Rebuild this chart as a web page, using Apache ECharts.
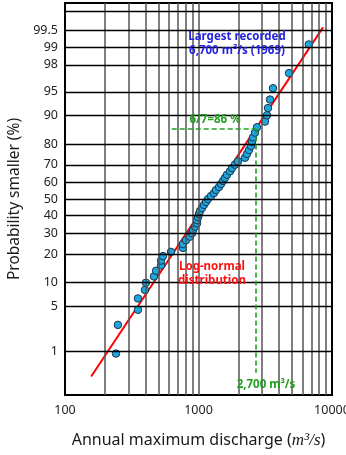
<!DOCTYPE html>
<html>
<head>
<meta charset="utf-8">
<script src="https://cdn.jsdelivr.net/npm/echarts@6/dist/echarts.min.js"></script>
<style>html,body{margin:0;padding:0;background:#fff;}#c{width:346px;height:455px;}</style>
</head>
<body>
<div id="c"></div>
<script>
// Observed annual maxima (m3/s) and their plotting probabilities (%)
const discharge = [241,249,352,352,397,404,464,481,524,524,542,622,765,765,806,864,894,910,942,
  975,975,991,1009,1026,1062,1099,1138,1178,1241,1306,1352,1425,1475,1527,1580,1635,1722,1783,
  1876,1976,2229,2307,2388,2472,2515,2559,2649,2742,3148,3258,3315,3433,3614,4764,6700];
const probability = [0.9,2.7,4.5,6.4,8.2,10.0,11.8,13.6,15.5,17.3,19.1,20.9,22.7,24.5,26.4,28.2,30.0,31.8,33.6,
  35.5,37.3,39.1,40.9,42.7,44.5,46.4,48.2,50.0,51.8,53.6,55.5,57.3,59.1,60.9,62.7,64.5,66.4,68.2,
  70.0,71.8,73.6,75.5,77.3,79.1,80.9,82.7,84.5,86.4,88.2,90.0,91.8,93.6,95.5,97.3,99.1];
// Fitted log-normal line end points
const fitQ = [157, 8570];
const fitP = [0.33, 99.57];
// Probability tick labels and extra grid lines
const probTicks = [1,5,10,20,30,40,50,60,70,80,90,95,98,99,99.5];
const probGridExtra = [99.8];
const xGrid = [200,300,400,500,600,700,800,900,1000,2000,3000,4000,5000,6000,7000,8000,9000];
// Annotation (86 % design flood)
const designP = 86;
const designQ = 2700;
const designStartQ = 630;
const designLowP = 0.39;

// inverse standard normal CDF (probability-paper scale)
function probit(p){
  const a=[-3.969683028665376e+01,2.209460984245205e+02,-2.759285104469687e+02,1.383577518672690e+02,-3.066479806614716e+01,2.506628277459239e+00];
  const b=[-5.447609879822406e+01,1.615858368580409e+02,-1.556989798598866e+02,6.680131188771972e+01,-1.328068155288572e+01];
  const c=[-7.784894002430293e-03,-3.223964580411365e-01,-2.400758277161838e+00,-2.549732539343734e+00,4.374664141464968e+00,2.938163982698783e+00];
  const d=[7.784695709041462e-03,3.224671290700398e-01,2.445134137142996e+00,3.754408661907416e+00];
  const pl=0.02425, ph=1-pl; let q,r;
  if(p<pl){q=Math.sqrt(-2*Math.log(p));return (((((c[0]*q+c[1])*q+c[2])*q+c[3])*q+c[4])*q+c[5])/((((d[0]*q+d[1])*q+d[2])*q+d[3])*q+1);}
  if(p<=ph){q=p-0.5;r=q*q;return (((((a[0]*r+a[1])*r+a[2])*r+a[3])*r+a[4])*r+a[5])*q/(((((b[0]*r+b[1])*r+b[2])*r+b[3])*r+b[4])*r+1);}
  q=Math.sqrt(-2*Math.log(1-p));return -(((((c[0]*q+c[1])*q+c[2])*q+c[3])*q+c[4])*q+c[5])/((((d[0]*q+d[1])*q+d[2])*q+d[3])*q+1);
}
const z = p => probit(p/100);

const tickZ = probTicks.map(z);
const fontF = '"Noto Sans", sans-serif';
const annFont = 'bold 11.5px "Noto Sans", sans-serif';

const chart = echarts.init(document.getElementById('c'), null, {renderer:'canvas'});
const option = {
  animation:false,
  grid:{left:65,right:14,top:3,bottom:60,containLabel:false,outerBoundsMode:'none',
    show:true,borderColor:'#000',borderWidth:2,backgroundColor:'#fff'},
  xAxis:{type:'log',logBase:10,min:100,max:10000,
    axisLine:{show:true,onZero:false,lineStyle:{color:'#000',width:2}},
    axisTick:{show:false},splitLine:{show:false},minorTick:{show:false},
    axisLabel:{color:'#222',fontSize:12.5,fontFamily:fontF,margin:9,formatter:v=>String(Math.round(v))},
    name:'Annual maximum discharge ({i|m³/s})',nameLocation:'middle',nameGap:37,
    nameTextStyle:{color:'#1a1a1a',fontSize:16,fontFamily:fontF,
      rich:{i:{fontFamily:'"Liberation Serif", "DejaVu Serif", serif',fontStyle:'italic',fontSize:17,color:'#1a1a1a'}}}
  },
  yAxis:{type:'value',min:-3,max:3,
    axisLine:{show:true,onZero:false,lineStyle:{color:'#000',width:2}},
    axisTick:{show:false},splitLine:{show:false},
    axisLabel:{customValues:tickZ,color:'#222',fontSize:12.5,fontFamily:fontF,margin:7,
      formatter:function(v){let best=0,bd=1e9;tickZ.forEach((t,i)=>{const dd=Math.abs(t-v);if(dd<bd){bd=dd;best=i;}});return String(probTicks[best]);}},
    name:'Probability smaller (%)',nameLocation:'middle',nameGap:38,
    nameTextStyle:{color:'#1a1a1a',fontSize:15.5,fontFamily:fontF}
  },
  series:[
    {type:'scatter',data:[],z:1,silent:true,
      markLine:{silent:true,symbol:'none',label:{show:false},
        lineStyle:{color:'#555',width:1.5,type:'solid'},
        data:xGrid.map(v=>({xAxis:v}))}},
    {type:'scatter',data:[],z:1,silent:true,
      markLine:{silent:true,symbol:'none',label:{show:false},
        lineStyle:{color:'#000',width:1.3,type:'solid'},
        data:probTicks.concat(probGridExtra).map(p=>({yAxis:z(p)}))}},
    {type:'line',data:fitQ.map((q,i)=>[q,z(fitP[i])]),symbol:'none',z:3,
      lineStyle:{color:'#ff0000',width:2}},
    {type:'scatter',data:[],z:3,silent:true,
      markLine:{silent:true,symbol:'none',label:{show:false},
        lineStyle:{color:'#1fa01f',width:1.6,type:[5,3]},
        data:[
          [{coord:[designStartQ,z(designP)]},{coord:[designQ,z(designP)]}],
          [{coord:[designQ,z(designP)]},{coord:[designQ,z(designLowP)]}]
        ]}},
    {type:'scatter',z:4,symbolSize:7.5,
      itemStyle:{color:'#1ea6de',borderColor:'#1b3550',borderWidth:1,opacity:1},
      data:discharge.map((q,i)=>[q,z(probability[i])])}
  ],
  graphic:[
    {type:'text',z:10,position:[237,37],style:{text:'Largest recorded',align:'center',verticalAlign:'middle',fill:'#2424e0',font:annFont}},
    {type:'text',z:10,position:[237,51],style:{text:'6,700 m³/s (1969)',align:'center',verticalAlign:'middle',fill:'#2424e0',font:annFont}},
    {type:'text',z:10,position:[215,120],style:{text:'6/7=86 %',align:'center',verticalAlign:'middle',fill:'#1fa01f',font:annFont}},
    {type:'text',z:10,position:[212,267],style:{text:'Log-normal',align:'center',verticalAlign:'middle',fill:'#ff1010',font:annFont}},
    {type:'text',z:10,position:[212,281],style:{text:'distribution',align:'center',verticalAlign:'middle',fill:'#ff1010',font:annFont}},
    {type:'text',z:10,position:[266,385],style:{text:'2,700 m³/s',align:'center',verticalAlign:'middle',fill:'#1fa01f',font:annFont}}
  ]
};
chart.setOption(option);
</script>
</body>
</html>
